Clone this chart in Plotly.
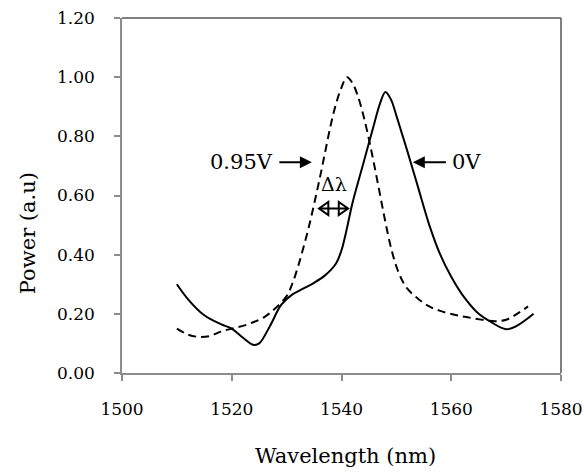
import plotly.graph_objects as go

# 0V (solid)
wl_0v = [1510, 1512, 1515, 1518, 1520, 1522, 1524, 1525, 1527, 1529, 1531, 1533, 1535, 1537, 1539,
         1540, 1541, 1542, 1544, 1546, 1547, 1548, 1549, 1550, 1551, 1552, 1554, 1556, 1558, 1560, 1562,
         1565, 1567, 1570, 1572, 1575]
p_0v = [0.30, 0.25, 0.195, 0.165, 0.15, 0.12, 0.095, 0.10, 0.16, 0.23, 0.265, 0.285, 0.305, 0.33, 0.37,
        0.415, 0.49, 0.575, 0.71, 0.845, 0.91, 0.95, 0.925, 0.87, 0.81, 0.75, 0.625, 0.50, 0.40, 0.325, 0.265,
        0.20, 0.175, 0.148, 0.16, 0.20]

# 0.95V (dashed)
wl_095v = [1510, 1512, 1514, 1516, 1518, 1520, 1523, 1526, 1528, 1530, 1531, 1532, 1533, 1534, 1535,
           1536, 1537, 1538, 1539, 1540, 1541, 1542, 1543, 1544, 1545, 1546, 1547, 1548, 1549, 1550,
           1551, 1552, 1554, 1556, 1558, 1561, 1564, 1568, 1570, 1572, 1574]
p_095v = [0.15, 0.13, 0.122, 0.125, 0.14, 0.15, 0.165, 0.19, 0.22, 0.26, 0.30, 0.355, 0.42, 0.49, 0.57,
          0.655, 0.745, 0.835, 0.91, 0.965, 1.00, 0.98, 0.935, 0.87, 0.79, 0.70, 0.605, 0.51, 0.425, 0.36,
          0.315, 0.285, 0.25, 0.225, 0.21, 0.195, 0.185, 0.175, 0.18, 0.20, 0.225]

x_ticks = [1500, 1520, 1540, 1560, 1580]
y_ticks = [0.0, 0.2, 0.4, 0.6, 0.8, 1.0, 1.2]
y_ticklabels = ["0.00", "0.20", "0.40", "0.60", "0.80", "1.00", "1.20"]

FONT = "DejaVu Serif"
AXC = "#8c8c8c"

fig = go.Figure()
fig.add_trace(go.Scatter(x=wl_095v, y=p_095v, mode="lines",
                         line=dict(color="black", width=2, dash="8px,5px", shape="spline", smoothing=1.0),
                         showlegend=False, hoverinfo="skip"))
fig.add_trace(go.Scatter(x=wl_0v, y=p_0v, mode="lines",
                         line=dict(color="black", width=2, shape="spline", smoothing=1.0),
                         showlegend=False, hoverinfo="skip"))

fig.update_layout(
    width=584, height=472,
    margin=dict(l=122, r=23, t=18, b=99),
    plot_bgcolor="white", paper_bgcolor="white",
    font=dict(family=FONT, color="black"),
    xaxis=dict(range=[1500, 1580], tickvals=x_ticks, ticktext=[str(v) for v in x_ticks],
               showgrid=False, zeroline=False, showline=True, linecolor=AXC, linewidth=1.5,
               ticks="outside", ticklen=6, tickcolor=AXC, tickwidth=1.5, automargin=False,
               tickfont=dict(family=FONT, size=17, color="black"), ticklabelstandoff=14),
    yaxis=dict(range=[0, 1.2], tickvals=y_ticks, ticktext=y_ticklabels,
               showgrid=False, zeroline=False, showline=True, linecolor=AXC, linewidth=1.5,
               ticks="outside", ticklen=6, tickcolor=AXC, tickwidth=1.5, automargin=False,
               tickfont=dict(family=FONT, size=17, color="black"), ticklabelstandoff=16),
)

# axis titles
fig.add_annotation(x=0.508, y=-0.234, xref="paper", yref="paper", text="Wavelength (nm)", showarrow=False,
                   xanchor="center", yanchor="middle", font=dict(family=FONT, size=21, color="black"))
fig.add_annotation(x=-0.214, y=0.394, xref="paper", yref="paper", text="Power (a.u)", showarrow=False,
                   textangle=-90, xanchor="center", yanchor="middle", font=dict(family=FONT, size=21, color="black"))

# frame top/right
fig.add_shape(type="line", xref="paper", yref="paper", x0=0, x1=1, y0=1, y1=1, line=dict(color="#555555", width=1.5))
fig.add_shape(type="line", xref="paper", yref="paper", x0=1, x1=1, y0=0, y1=1, line=dict(color="#555555", width=1.5))

# arrows + labels
fig.add_annotation(x=1534.6, y=0.712, ax=1528.4, ay=0.712, xref="x", yref="y", axref="x", ayref="y",
                   text="", showarrow=True, arrowhead=2, arrowsize=1.2, arrowwidth=2, arrowcolor="black")
fig.add_annotation(x=1527.9, y=0.712, xref="x", yref="y", text="0.95V", showarrow=False,
                   xanchor="right", yanchor="middle", font=dict(family=FONT, size=21, color="black"))
fig.add_annotation(x=1553.0, y=0.712, ax=1559.3, ay=0.712, xref="x", yref="y", axref="x", ayref="y",
                   text="", showarrow=True, arrowhead=2, arrowsize=1.2, arrowwidth=2, arrowcolor="black")
fig.add_annotation(x=1559.8, y=0.712, xref="x", yref="y", text="0V", showarrow=False,
                   xanchor="left", yanchor="middle", font=dict(family=FONT, size=21, color="black"))
fig.add_annotation(x=1538.6, y=0.64, xref="x", yref="y", text="Δλ", showarrow=False,
                   xanchor="center", yanchor="middle", font=dict(family=FONT, size=19, color="black"))

# double-headed open arrow for delta lambda
xl, xr, yc, hl, hh = 1535.9, 1541.2, 0.556, 1.7, 0.022
path = (f"M {xl},{yc} L {xl+hl},{yc+hh} L {xl+hl},{yc-hh} Z "
        f"M {xr},{yc} L {xr-hl},{yc+hh} L {xr-hl},{yc-hh} Z "
        f"M {xl},{yc} L {xr},{yc}")
fig.add_shape(type="path", xref="x", yref="y", path=path, line=dict(color="black", width=2))

fig.write_html("out.html", config={"displayModeBar": False},
               post_script="document.body.style.margin='0';document.body.style.overflow='hidden';")
